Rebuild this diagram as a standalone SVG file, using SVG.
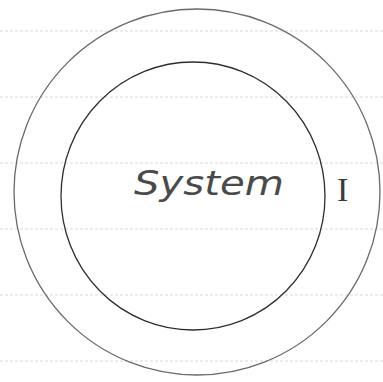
<svg xmlns="http://www.w3.org/2000/svg" width="383" height="382" viewBox="0 0 383 382">
<style>
.rule{stroke:#d8d8d8;stroke-width:1;stroke-dasharray:3 2;fill:none}
.ring{fill:none;stroke:#6a6a6a;stroke-width:1.3}
.hand{font-family:"DejaVu Sans","Liberation Sans",sans-serif;fill:#4a4a4a;font-style:italic}
</style>
<rect width="383" height="382" fill="#ffffff"/>
<g id="rules">
<line class="rule" x1="0" y1="31" x2="383" y2="31"/>
<line class="rule" x1="0" y1="97" x2="383" y2="97"/>
<line class="rule" x1="0" y1="163" x2="383" y2="163"/>
<line class="rule" x1="0" y1="229" x2="383" y2="229"/>
<line class="rule" x1="0" y1="295" x2="383" y2="295"/>
<line class="rule" x1="0" y1="361" x2="383" y2="361"/>
</g>
<g id="environment">
<ellipse class="ring" cx="197" cy="192" rx="183" ry="183"/>
<text x="337" y="201" font-size="34" font-family="Liberation Serif, serif" fill="#3a3a3a">I</text>
</g>
<g id="system">
<ellipse class="ring" cx="193" cy="196" rx="132" ry="134" style="stroke:#2e2e2e"/>
<text class="hand" x="134" y="195" font-size="34" textLength="150" lengthAdjust="spacingAndGlyphs">System</text>
</g>
<g id="connectors"></g>
</svg>
